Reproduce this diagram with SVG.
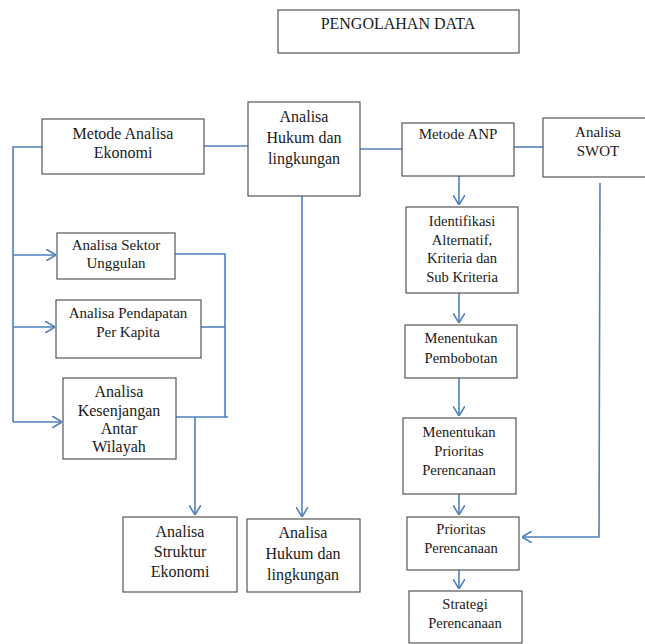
<svg xmlns="http://www.w3.org/2000/svg" width="645" height="644" viewBox="0 0 645 644" font-family="Liberation Serif">
<style>
.box{fill:#fff;stroke:#555;stroke-width:1.2}
text{font-family:'Liberation Serif',serif;fill:#1a1a1a;text-anchor:middle}
.s{font-size:14.6px}
.m{font-size:15px}
.l{font-size:16px}
.c{fill:none;stroke:#4f81bd;stroke-width:1.6}
</style>
<defs>
<marker id="ah" markerUnits="userSpaceOnUse" viewBox="0 0 10 12" refX="10" refY="6" markerWidth="10" markerHeight="12" orient="auto">
<path d="M0,0 L10,6 L0,12" fill="none" stroke="#4f81bd" stroke-width="1.6"/>
</marker>
</defs>
<rect width="645" height="644" fill="#fff"/>
<g id="connectors">
<path class="c" d="M204,146 H248"/>
<path class="c" d="M360,149 H402"/>
<path class="c" d="M514,147 H543"/>
<path class="c" d="M42,147 H13 V422"/>
<path class="c" d="M13,255 H56" marker-end="url(#ah)"/>
<path class="c" d="M13,327 H55" marker-end="url(#ah)"/>
<path class="c" d="M13,422 H62" marker-end="url(#ah)"/>
<path class="c" d="M175,254 H225 V417"/>
<path class="c" d="M201,327 H225"/>
<path class="c" d="M176,417 H228"/>
<path class="c" d="M195,417 V515" marker-end="url(#ah)"/>
<path class="c" d="M302,196 V517" marker-end="url(#ah)"/>
<path class="c" d="M459,176 V205" marker-end="url(#ah)"/>
<path class="c" d="M459,293 V323" marker-end="url(#ah)"/>
<path class="c" d="M459,378 V416" marker-end="url(#ah)"/>
<path class="c" d="M459,494 V515" marker-end="url(#ah)"/>
<path class="c" d="M459,570 V589" marker-end="url(#ah)"/>
<path class="c" d="M600,183 L599,537 H522" marker-end="url(#ah)"/>
</g>
<g font-family="Liberation Serif">
<g id="pengolahan"><rect class="box" x="278" y="10" width="241" height="43"/><text class="l" x="398" y="29">PENGOLAHAN DATA</text></g>
<g id="metode-ekonomi"><rect class="box" x="42" y="119" width="162" height="55"/><text class="l" x="123" y="139">Metode Analisa</text><text class="l" x="123" y="158">Ekonomi</text></g>
<g id="hukum-top"><rect class="box" x="248" y="102" width="112" height="94"/><text class="l" x="304" y="122">Analisa</text><text class="l" x="304" y="143">Hukum dan</text><text class="l" x="304" y="164">lingkungan</text></g>
<g id="metode-anp"><rect class="box" x="402" y="123" width="112" height="53"/><text class="m" x="458" y="139">Metode ANP</text></g>
<g id="swot"><rect class="box" x="543" y="118" width="110" height="59"/><text class="m" x="598" y="137">Analisa</text><text class="m" x="598" y="156">SWOT</text></g>
<g id="sektor"><rect class="box" x="57" y="233" width="118" height="46"/><text class="m" x="116" y="250">Analisa Sektor</text><text class="m" x="116" y="268">Unggulan</text></g>
<g id="pendapatan"><rect class="box" x="56" y="300" width="145" height="58"/><text class="m" x="128" y="318">Analisa Pendapatan</text><text class="m" x="128" y="337">Per Kapita</text></g>
<g id="kesenjangan"><rect class="box" x="63" y="378" width="113" height="81"/><text class="l" x="119" y="397">Analisa</text><text class="l" x="119" y="416">Kesenjangan</text><text class="l" x="119" y="434">Antar</text><text class="l" x="119" y="452">Wilayah</text></g>
<g id="struktur"><rect class="box" x="123" y="517" width="114" height="75"/><text class="l" x="180" y="537">Analisa</text><text class="l" x="180" y="557">Struktur</text><text class="l" x="180" y="577">Ekonomi</text></g>
<g id="hukum-bottom"><rect class="box" x="247" y="519" width="113" height="73"/><text class="l" x="303" y="538">Analisa</text><text class="l" x="303" y="559">Hukum dan</text><text class="l" x="303" y="580">lingkungan</text></g>
<g id="identifikasi"><rect class="box" x="406" y="207" width="112" height="86"/><text class="s" x="462" y="226">Identifikasi</text><text class="s" x="462" y="245">Alternatif,</text><text class="s" x="462" y="263">Kriteria dan</text><text class="s" x="462" y="282">Sub Kriteria</text></g>
<g id="pembobotan"><rect class="box" x="405" y="325" width="112" height="53"/><text class="s" x="461" y="343">Menentukan</text><text class="s" x="461" y="363">Pembobotan</text></g>
<g id="menentukan-prioritas"><rect class="box" x="403" y="418" width="113" height="76"/><text class="s" x="459" y="437">Menentukan</text><text class="s" x="459" y="456">Prioritas</text><text class="s" x="459" y="475">Perencanaan</text></g>
<g id="prioritas"><rect class="box" x="407" y="517" width="112" height="53"/><text class="s" x="461" y="534">Prioritas</text><text class="s" x="461" y="553">Perencanaan</text></g>
<g id="strategi"><rect class="box" x="409" y="591" width="113" height="52"/><text class="s" x="465" y="609">Strategi</text><text class="s" x="465" y="628">Perencanaan</text></g>
</g>
</svg>
